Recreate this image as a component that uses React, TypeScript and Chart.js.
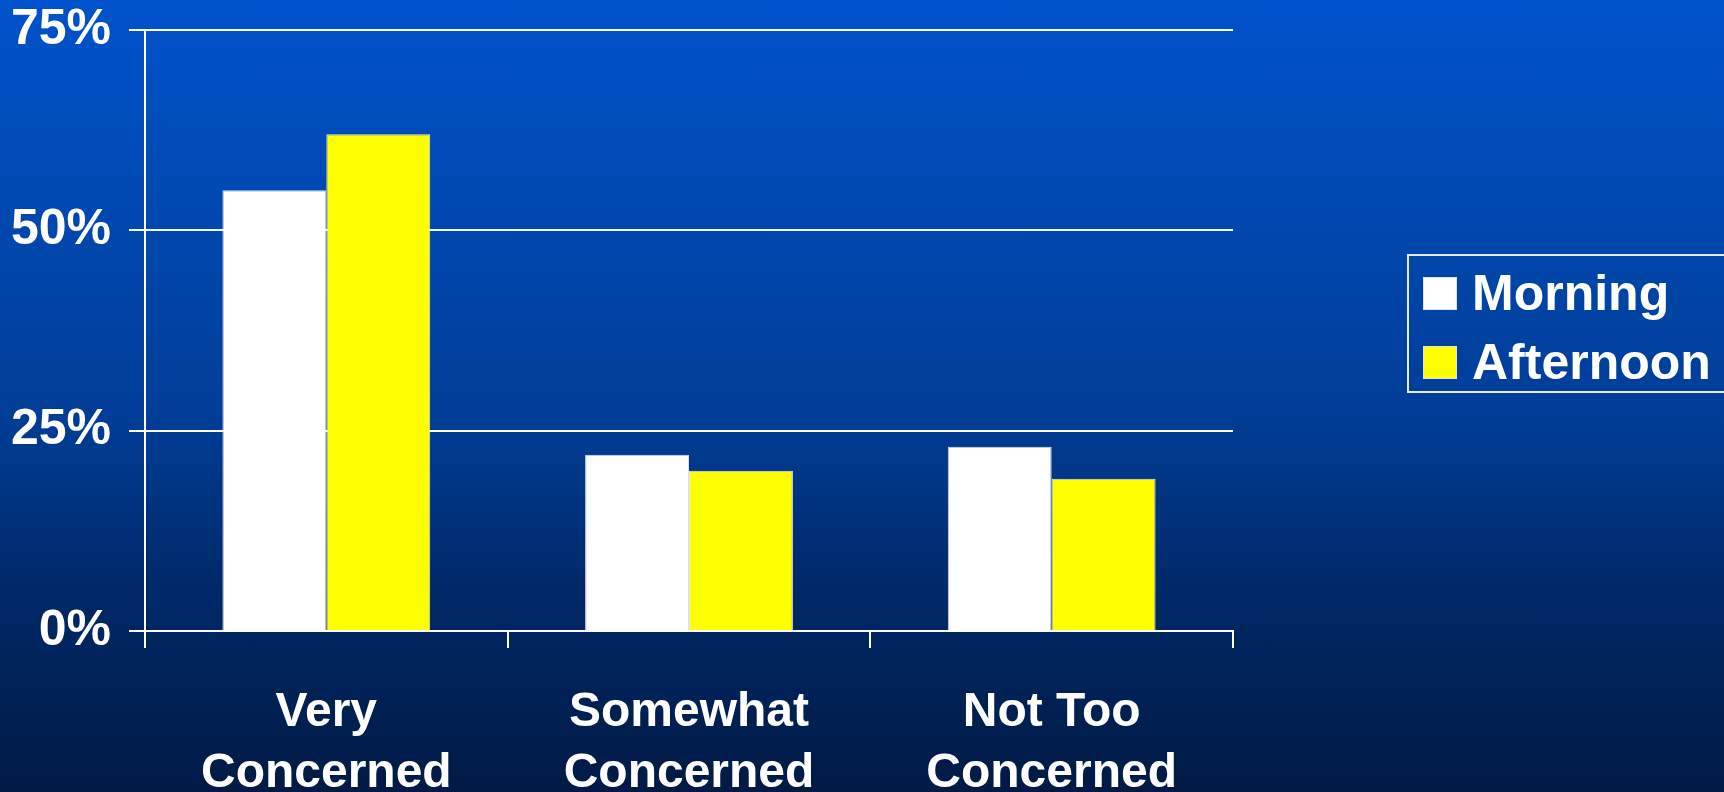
import React, { useEffect, useRef } from "react";
import { Chart, registerables } from "chart.js";

Chart.register(...registerables);

const categories: string[][] = [
  ["Very", "Concerned"],
  ["Somewhat", "Concerned"],
  ["Not Too", "Concerned"],
];
const morningValues = [55, 22, 23];
const afternoonValues = [62, 20, 19];
const seriesLabels = ["Morning", "Afternoon"];
const yTicks = [0, 25, 50, 75];

const FONT = "'Liberation Sans', Arial, sans-serif";

const boxLegend = {
  id: "boxLegend",
  afterDraw(chart: any) {
    const ctx = chart.ctx as CanvasRenderingContext2D;
    const x = 1408, y = 255, w = 330, h = 137;
    ctx.save();
    ctx.strokeStyle = "#e8ecf4";
    ctx.lineWidth = 2;
    ctx.strokeRect(x, y, w, h);
    ctx.font = `bold 50px ${FONT}`;
    ctx.textBaseline = "middle";
    chart.data.datasets.forEach((ds: any, i: number) => {
      const cy = y + 39 + i * 69;
      ctx.fillStyle = ds.backgroundColor;
      ctx.fillRect(x + 15, cy - 17, 34, 33);
      ctx.strokeStyle = "#dde2ee";
      ctx.lineWidth = 1;
      ctx.strokeRect(x + 15.5, cy - 16.5, 33, 32);
      ctx.fillStyle = "#ffffff";
      ctx.fillText(ds.label, x + 64, cy + 2);
    });
    ctx.restore();
  },
};

export default function App() {
  const ref = useRef<HTMLCanvasElement | null>(null);

  useEffect(() => {
    document.body.style.margin = "0";
    const canvas = ref.current;
    if (!canvas) return;
    const chart = new Chart(canvas, {
      type: "bar",
      data: {
        labels: categories,
        datasets: [
          {
            label: seriesLabels[0],
            data: morningValues,
            backgroundColor: "#ffffff",
            borderColor: "#d8dde8",
            borderWidth: 1,
          },
          {
            label: seriesLabels[1],
            data: afternoonValues,
            backgroundColor: "#ffff00",
            borderColor: "#e6e8ee",
            borderWidth: 1,
          },
        ],
      },
      options: {
        animation: false,
        responsive: false,
        maintainAspectRatio: false,
        layout: { padding: { top: 30, right: 491, left: 0, bottom: 0 } },
        datasets: {
          bar: { barPercentage: 1, categoryPercentage: 0.573 },
        },
        plugins: {
          legend: { display: false },
          tooltip: { enabled: false },
        },
        scales: {
          x: {
            offset: true,
            grid: {
              offset: true,
              drawOnChartArea: true,
              color: (c: any) => (c.index === 3 ? "#ffffff" : "rgba(0,0,0,0)"),
              tickColor: "#ffffff",
              tickLength: 17,
              lineWidth: 2,
            },
            border: { display: true, color: "#ffffff", width: 2 },
            ticks: {
              color: "#ffffff",
              font: { family: FONT, size: 48, weight: "bold", lineHeight: 1.27 },
              padding: 34,
              maxRotation: 0,
            },
            afterFit: (s: any) => {
              s.height = 161;
            },
          },
          y: {
            min: 0,
            max: 75,
            afterBuildTicks: (s: any) => {
              s.ticks = yTicks.map((v) => ({ value: v }));
            },
            grid: {
              color: "#ffffff",
              lineWidth: 2,
              tickLength: 16,
              tickColor: "#ffffff",
            },
            border: { display: true, color: "#ffffff", width: 2 },
            ticks: {
              color: "#ffffff",
              font: { family: FONT, size: 50, weight: "bold" },
              padding: 18,
              callback: (v: any) => `${v}%`,
            },
            afterFit: (s: any) => {
              s.width = 145;
              s.paddingTop = 0;
              s.paddingBottom = 0;
            },
          },
        },
      },
      plugins: [boxLegend],
    });
    return () => chart.destroy();
  }, []);

  return (
    <div
      style={{
        width: 1724,
        height: 792,
        background:
          "linear-gradient(to bottom, #0052cc 0%, #0049b2 25%, #003d96 53%, #002a6a 73%, #001a44 100%)",
      }}
    >
      <canvas ref={ref} width={1724} height={792} style={{ display: "block" }} />
    </div>
  );
}
